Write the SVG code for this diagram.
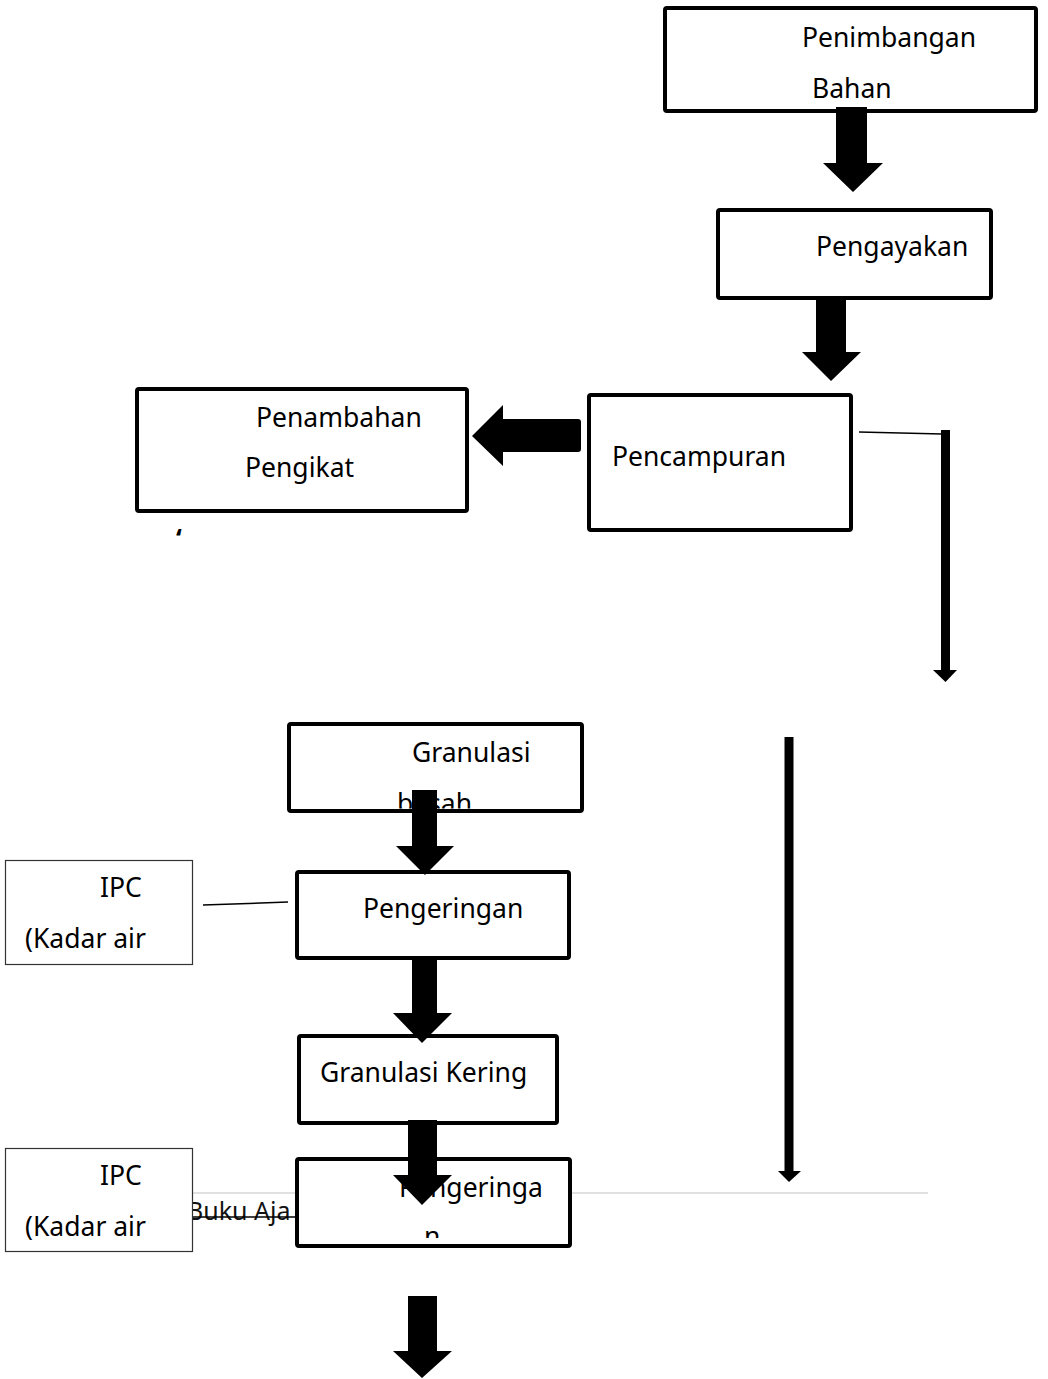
<svg xmlns="http://www.w3.org/2000/svg" width="1048" height="1379" viewBox="0 0 1048 1379">
  <style>
    .box { fill: #ffffff; stroke: #000000; stroke-width: 4; }
    .ipc { fill: #ffffff; stroke: #333333; stroke-width: 1.2; }
    .lbl { font-family: "Noto Sans", "Open Sans", sans-serif; font-size: 26.5px; fill: #000000; }
    .foot { font-family: "Noto Sans", "Open Sans", sans-serif; font-size: 25px; fill: #111111; }
    .thin { stroke: #000000; stroke-width: 1.5; fill: none; }
    .bar { fill: #000000; }
  </style>
  <defs>
    <clipPath id="clipBasah"><rect x="290" y="770" width="290" height="38.5"/></clipPath>
    <clipPath id="clipN"><rect x="298" y="1215" width="270" height="23"/></clipPath>
  </defs>

  <rect width="1048" height="1379" fill="#ffffff"/>

  <!-- page rule and footer text -->
  <line x1="193" y1="1193" x2="928" y2="1193" stroke="#d6d6d6" stroke-width="1.5"/>
  <text class="foot" x="187" y="1220">Buku Aja</text>

  <g id="nodes">
    <g id="penimbangan">
      <rect class="box" x="665" y="8" width="371" height="103" rx="2"/>
      <text class="lbl" x="802" y="47">Penimbangan</text>
      <text class="lbl" x="812" y="98">Bahan</text>
    </g>
    <g id="pengayakan">
      <rect class="box" x="718" y="210" width="273" height="88" rx="2"/>
      <text class="lbl" x="816" y="256">Pengayakan</text>
    </g>
    <g id="penambahan-pengikat">
      <rect class="box" x="137" y="389" width="330" height="122" rx="2"/>
      <text class="lbl" x="256" y="427">Penambahan</text>
      <text class="lbl" x="245" y="477">Pengikat</text>
      <text class="lbl" x="176" y="548" font-weight="bold">‘</text>
    </g>
    <g id="pencampuran">
      <rect class="box" x="589" y="395" width="262" height="135" rx="2"/>
      <text class="lbl" x="612" y="466">Pencampuran</text>
    </g>
    <g id="granulasi-basah">
      <rect class="box" x="289" y="724" width="293" height="87" rx="2"/>
      <text class="lbl" x="412" y="762">Granulasi</text>
      <text class="lbl" x="397" y="813" clip-path="url(#clipBasah)">basah</text>
    </g>
    <g id="ipc-1">
      <rect class="ipc" x="5.5" y="860.5" width="187" height="104"/>
      <text class="lbl" x="100" y="897">IPC</text>
      <text class="lbl" x="25" y="948">(Kadar air</text>
    </g>
    <g id="pengeringan">
      <rect class="box" x="297" y="872" width="272" height="86" rx="2"/>
      <text class="lbl" x="363" y="918">Pengeringan</text>
    </g>
    <g id="granulasi-kering">
      <rect class="box" x="299" y="1036" width="258" height="87" rx="2"/>
      <text class="lbl" x="320" y="1082">Granulasi Kering</text>
    </g>
    <g id="ipc-2">
      <rect class="ipc" x="5.5" y="1148.5" width="187" height="103"/>
      <text class="lbl" x="100" y="1185">IPC</text>
      <text class="lbl" x="25" y="1236">(Kadar air</text>
    </g>
    <g id="pengeringan-2">
      <rect class="box" x="297" y="1159" width="273" height="87" rx="2"/>
      <text class="lbl" x="399" y="1197">Pengeringa</text>
      <text class="lbl" x="424" y="1246" clip-path="url(#clipN)">n</text>
    </g>
  </g>

  <g id="connectors">
    <!-- block arrows -->
    <polygon class="bar" points="836,107 867,107 867,163 883,163 853,192 823,163 836,163"/>
    <polygon class="bar" points="816,296 846,296 846,352 861,352 831,381 802,352 816,352"/>
    <path class="bar" d="M581,422 Q581,419 578,419 L503,419 L503,405 L472,436 L503,466 L503,452 L578,452 Q581,452 581,449 Z"/>
    <polygon class="bar" points="412,790 437,790 437,846 454,846 425,875 396,846 412,846"/>
    <polygon class="bar" points="412,958 437,958 437,1013 452,1013 422,1043 393,1013 412,1013"/>
    <polygon class="bar" points="408,1120 437,1120 437,1175 452,1175 422,1205 393,1175 408,1175"/>
    <polygon class="bar" points="408,1296 437,1296 437,1351 452,1351 422,1378 393,1351 408,1351"/>

    <!-- side branch from Pencampuran -->
    <line class="thin" x1="859" y1="432" x2="942" y2="434"/>
    <rect class="bar" x="941" y="430" width="9" height="241"/>
    <polygon class="bar" points="933,670 957,670 945.5,682"/>

    <rect class="bar" x="784.5" y="737" width="9" height="435"/>
    <polygon class="bar" points="778,1171 801,1171 789,1182"/>

    <!-- IPC links -->
    <line class="thin" x1="203" y1="905" x2="288" y2="902"/>
    <line class="thin" x1="193" y1="1217" x2="296" y2="1217"/>
  </g>
</svg>
